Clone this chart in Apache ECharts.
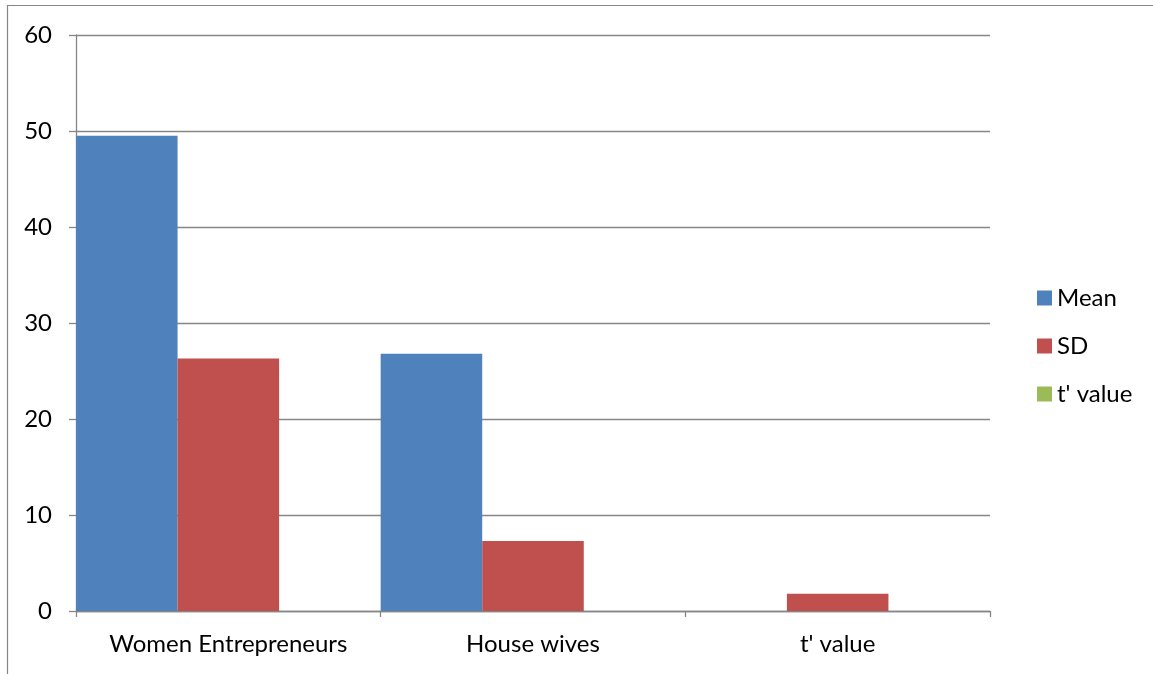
<!DOCTYPE html>
<html>
<head>
<meta charset="utf-8">
<script src="https://cdn.jsdelivr.net/npm/echarts@6/dist/echarts.min.js"></script>
<style>
  html, body { margin: 0; padding: 0; background: #fff; }
  #chart { width: 1153px; height: 674px; }
</style>
</head>
<body>
<div id="chart"></div>
<script>
// Categories along the x axis
const categories = ['Women Entrepreneurs', 'House wives', "t' value"];
// Series values
const meanValues = [49.5, 26.8, null];
const sdValues = [26.3, 7.3, 1.8];
const tValues = [0, 0, 0];
// Y axis range
const yMin = 0, yMax = 60, yStep = 10;

const FONT = 'Lato, "Open Sans", sans-serif';
const GRAY = '#868686';

const chart = echarts.init(document.getElementById('chart'), null, { renderer: 'canvas' });

chart.setOption({
  animation: false,
  backgroundColor: '#fff',
  textStyle: { fontFamily: FONT },
  graphic: [{
    type: 'rect',
    shape: { x: 7.5, y: 5.5, width: 1300, height: 800 },
    style: { fill: 'none', stroke: GRAY, lineWidth: 1.2 },
    silent: true
  }],
  grid: { left: 76, right: 163, top: 35, bottom: 63, containLabel: false },
  legend: {
    orient: 'vertical',
    left: 1032,
    top: 281,
    itemWidth: 15,
    itemHeight: 15,
    itemGap: 24,
    icon: 'rect',
    textStyle: { fontFamily: FONT, fontSize: 24, lineHeight: 24, color: '#000', padding: [0, 0, 0, 0] },
    data: ['Mean', 'SD', "t' value"]
  },
  xAxis: {
    type: 'category',
    data: categories,
    boundaryGap: true,
    axisLine: { lineStyle: { color: GRAY, width: 1.3 } },
    axisTick: { show: true, length: 6, alignWithLabel: false, interval: 0, lineStyle: { color: GRAY, width: 1.3 } },
    axisLabel: { color: '#000', fontSize: 24, fontFamily: FONT, margin: 21, interval: 0, hideOverlap: false }
  },
  yAxis: {
    type: 'value',
    min: yMin,
    max: yMax,
    interval: yStep,
    axisLine: { show: true, lineStyle: { color: GRAY, width: 1.3 } },
    axisTick: { show: true, length: 7, lineStyle: { color: GRAY, width: 1.3 } },
    axisLabel: { color: '#000', fontSize: 24, fontFamily: FONT, margin: 24 },
    splitLine: { show: true, lineStyle: { color: GRAY, width: 1.3 } }
  },
  series: [
    { name: 'Mean', type: 'bar', data: meanValues, itemStyle: { color: '#4F81BD' }, barGap: '0%', barCategoryGap: '0%' },
    { name: 'SD', type: 'bar', data: sdValues, itemStyle: { color: '#C0504D' }, barGap: '0%', barCategoryGap: '0%' },
    { name: "t' value", type: 'bar', data: tValues, itemStyle: { color: '#9BBB59' }, barGap: '0%', barCategoryGap: '0%' }
  ]
});
</script>
</body>
</html>
